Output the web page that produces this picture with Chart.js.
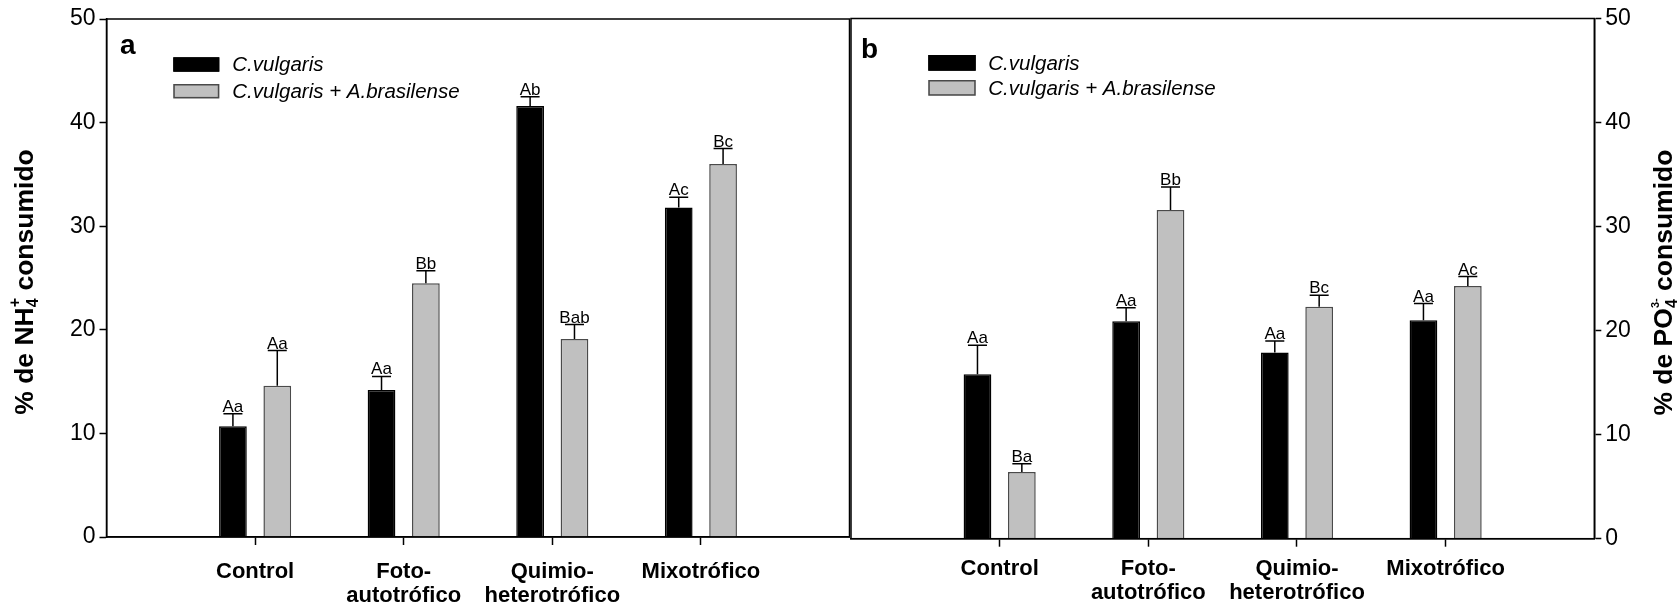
<!DOCTYPE html>
<html>
<head>
<meta charset="utf-8">
<script src="https://cdn.jsdelivr.net/npm/chart.js@4"></script>
<style>
  html, body { margin: 0; padding: 0; background: #fff; }
  #wrap { position: relative; width: 1679px; height: 607px; overflow: hidden; background: #fff; }
  #chartA { position: absolute; left: 0; top: 0; }
  #chartB { position: absolute; left: 849px; top: 0; }
</style>
</head>
<body>
<div id="wrap">
  <canvas id="chartA" width="851" height="607"></canvas>
  <canvas id="chartB" width="830" height="607"></canvas>
</div>
<script>
// Culture conditions (x categories)
const categories = ['Control', ['Foto-', 'autotrófico'], ['Quimio-', 'heterotrófico'], 'Mixotrófico'];
const seriesNames = ['C.vulgaris', 'C.vulgaris + A.brasilense'];
const yTicks = [0, 10, 20, 30, 40, 50];

// (a) % de NH4+ consumido
const nh4Vulgaris = [10.7, 14.2, 41.6, 31.8];
const nh4VulgarisErr = [1.2, 1.3, 0.9, 1.0];
const nh4VulgarisLetters = ['Aa', 'Aa', 'Ab', 'Ac'];
const nh4Mixed = [14.6, 24.5, 19.1, 36.0];
const nh4MixedErr = [3.4, 1.2, 1.4, 1.5];
const nh4MixedLetters = ['Aa', 'Bb', 'Bab', 'Bc'];

// (b) % de PO4 3- consumido
const po4Vulgaris = [15.8, 20.9, 17.9, 21.0];
const po4VulgarisErr = [2.8, 1.3, 1.1, 1.6];
const po4VulgarisLetters = ['Aa', 'Aa', 'Aa', 'Aa'];
const po4Mixed = [6.4, 31.6, 22.3, 24.3];
const po4MixedErr = [0.8, 2.2, 1.1, 0.9];
const po4MixedLetters = ['Ba', 'Bb', 'Bc', 'Ac'];

const FONT = '"Liberation Sans", Arial, Helvetica, sans-serif';
Chart.defaults.font.family = FONT;
Chart.defaults.color = '#000';

// one empty slot on each side so the four groups sit at 1/5 .. 4/5 of the width
const pad = arr => [null, ...arr, null];
const axisLabels = ['', ...categories, ''];

// box around the plotting area
const framePlugin = {
  id: 'frame',
  afterDraw(chart) {
    const { ctx, chartArea: a } = chart;
    ctx.save();
    ctx.strokeStyle = '#000';
    ctx.lineWidth = 1.5;
    ctx.strokeRect(a.left, a.top, a.right - a.left, a.bottom - a.top);
    ctx.restore();
  }
};

// upper error bars with significance letters
const errorBarPlugin = {
  id: 'errorBars',
  afterDatasetsDraw(chart, args, opts) {
    const ctx = chart.ctx;
    const ys = chart.scales.y;
    chart.data.datasets.forEach((ds, d) => {
      const meta = chart.getDatasetMeta(d);
      meta.data.forEach((bar, i) => {
        const v = ds.data[i];
        if (v === null || v === undefined) return;
        const e = ds.errors[i];
        const yTop = ys.getPixelForValue(v + e);
        ctx.save();
        ctx.strokeStyle = '#000';
        ctx.lineWidth = 1.5;
        ctx.beginPath();
        ctx.moveTo(bar.x, bar.y);
        ctx.lineTo(bar.x, yTop);
        ctx.moveTo(bar.x - opts.cap / 2, yTop);
        ctx.lineTo(bar.x + opts.cap / 2, yTop);
        ctx.stroke();
        ctx.fillStyle = '#000';
        ctx.font = '17px ' + FONT;
        ctx.textAlign = 'center';
        ctx.textBaseline = 'alphabetic';
        ctx.fillText(ds.letters[i], bar.x, yTop - 2);
        ctx.restore();
      });
    });
  }
};

// legend boxes inside the plot
const boxLegendPlugin = {
  id: 'boxLegend',
  afterDraw(chart, args, o) {
    const ctx = chart.ctx;
    ctx.save();
    chart.data.datasets.forEach((ds, d) => {
      const y = o.y + d * o.step;
      ctx.fillStyle = ds.backgroundColor;
      ctx.fillRect(o.x, y, o.w, o.h);
      ctx.strokeStyle = ds.borderColor;
      ctx.lineWidth = 1.5;
      ctx.strokeRect(o.x + 0.75, y + 0.75, o.w - 1.5, o.h - 1.5);
      ctx.fillStyle = '#000';
      ctx.font = 'italic 20.5px ' + FONT;
      ctx.textAlign = 'left';
      ctx.textBaseline = 'middle';
      ctx.fillText(ds.label, o.x + o.w + o.gap, y + o.h / 2 + 1);
    });
    ctx.restore();
  }
};

// panel letter
const panelTagPlugin = {
  id: 'panelTag',
  afterDraw(chart, args, o) {
    const ctx = chart.ctx;
    ctx.save();
    ctx.fillStyle = '#000';
    ctx.font = 'bold 28px ' + FONT;
    ctx.textAlign = 'left';
    ctx.textBaseline = 'alphabetic';
    ctx.fillText(o.text, o.x, o.y);
    ctx.restore();
  }
};

// vertical axis title with sub/superscripts, reading bottom to top
const axisTitlePlugin = {
  id: 'axisTitle',
  afterDraw(chart, args, o) {
    const ctx = chart.ctx;
    const a = chart.chartArea;
    const fontOf = (size) => 'bold ' + size + 'px ' + FONT;
    const widthOf = (seg) => {
      if (seg.stack) {
        return Math.max(...seg.stack.map(s => { ctx.font = fontOf(s.size); return ctx.measureText(s.t).width; }));
      }
      ctx.font = fontOf(seg.size);
      return ctx.measureText(seg.t).width;
    };
    ctx.save();
    const total = o.parts.reduce((sum, seg) => sum + widthOf(seg), 0);
    ctx.translate(o.x, (a.top + a.bottom) / 2 + (o.dy || 0));
    ctx.rotate(-Math.PI / 2);
    ctx.fillStyle = '#000';
    ctx.textAlign = 'left';
    ctx.textBaseline = 'alphabetic';
    let x = -total / 2;
    o.parts.forEach(seg => {
      const w = widthOf(seg);
      if (seg.stack) {
        seg.stack.forEach(s => {
          ctx.font = fontOf(s.size);
          ctx.fillText(s.t, x, s.dy);
        });
      } else {
        ctx.font = fontOf(seg.size);
        ctx.fillText(seg.t, x, 0);
      }
      x += w;
    });
    ctx.restore();
  }
};

function makePanel(canvas, cfg) {
  const hiddenEdgeTick = (c) => (c.index === 0 || c.index === axisLabels.length - 1) ? 'rgba(0,0,0,0)' : '#000';
  return new Chart(canvas, {
    type: 'bar',
    data: {
      labels: axisLabels,
      datasets: [
        {
          label: seriesNames[0],
          data: pad(cfg.v1), errors: pad(cfg.e1), letters: pad(cfg.l1),
          backgroundColor: '#000000', borderColor: '#000000', borderWidth: 1.5,
          categoryPercentage: 0.597, barPercentage: 0.625
        },
        {
          label: seriesNames[1],
          data: pad(cfg.v2), errors: pad(cfg.e2), letters: pad(cfg.l2),
          backgroundColor: '#c0c0c0', borderColor: '#4a4a4a', borderWidth: 1.5,
          categoryPercentage: 0.597, barPercentage: 0.625
        }
      ]
    },
    options: {
      responsive: false,
      animation: false,
      devicePixelRatio: 1,
      events: [],
      layout: { padding: cfg.padding },
      plugins: {
        legend: { display: false },
        tooltip: { enabled: false },
        errorBars: { cap: 19 },
        boxLegend: cfg.legend,
        panelTag: cfg.tag,
        axisTitle: cfg.title
      },
      scales: {
        x: {
          type: 'category',
          offset: false,
          grid: {
            offset: false, drawOnChartArea: false, drawTicks: true,
            tickLength: 8, tickWidth: 1.5, tickColor: hiddenEdgeTick
          },
          border: { display: true, color: '#000', width: 1.5 },
          ticks: {
            color: '#000', autoSkip: false, maxRotation: 0, minRotation: 0,
            padding: cfg.xPad,
            font: { size: 22, weight: 'bold', lineHeight: 1.1 }
          },
          afterFit: (s) => {
            s.height = cfg.xHeight;
            // keep the plot edges where the layout puts them
            s.paddingLeft = 0;
            s.paddingRight = 0;
          }
        },
        y: {
          position: cfg.yPos,
          min: 0, max: 50,
          afterBuildTicks: (s) => { s.ticks = yTicks.map(v => ({ value: v })); },
          grid: { drawOnChartArea: false, drawTicks: true, tickLength: 7, tickWidth: 1.5, tickColor: '#000' },
          border: { display: true, color: '#000', width: 1.5 },
          ticks: { color: '#000', padding: 4, font: { size: 23 } },
          afterFit: (s) => { s.width = cfg.yWidth; }
        }
      }
    },
    plugins: [errorBarPlugin, framePlugin, boxLegendPlugin, panelTagPlugin, axisTitlePlugin]
  });
}

makePanel(document.getElementById('chartA'), {
  v1: nh4Vulgaris, e1: nh4VulgarisErr, l1: nh4VulgarisLetters,
  v2: nh4Mixed, e2: nh4MixedErr, l2: nh4MixedLetters,
  padding: { left: 0, right: 1.5, top: 19, bottom: 0 },
  yPos: 'left', yWidth: 106.5, xHeight: 70, xPad: 15,
  legend: { x: 173.3, y: 57.3, w: 46, h: 14.4, step: 26.7, gap: 13 },
  tag: { text: 'a', x: 120, y: 53.5 },
  title: {
    x: 33, dy: 4,
    parts: [
      { t: '% de NH', size: 26.5 },
      { stack: [ { t: '4', size: 16, dy: 5 }, { t: '+', size: 16, dy: -13 } ] },
      { t: ' consumido', size: 26.5 }
    ]
  }
});

makePanel(document.getElementById('chartB'), {
  v1: po4Vulgaris, e1: po4VulgarisErr, l1: po4VulgarisLetters,
  v2: po4Mixed, e2: po4MixedErr, l2: po4MixedLetters,
  padding: { left: 2, right: 0, top: 18.5, bottom: 0 },
  yPos: 'right', yWidth: 84.7, xHeight: 68.3, xPad: 10,
  legend: { x: 79.3, y: 55, w: 47.4, h: 15.7, step: 25, gap: 12.6 },
  tag: { text: 'b', x: 12, y: 58.3 },
  title: {
    x: 823, dy: 4,
    parts: [
      { t: '% de PO', size: 26.5 },
      { stack: [ { t: '4', size: 16, dy: 5 }, { t: '3-', size: 11, dy: -13 } ] },
      { t: ' consumido', size: 26.5 }
    ]
  }
});
</script>
</body>
</html>
